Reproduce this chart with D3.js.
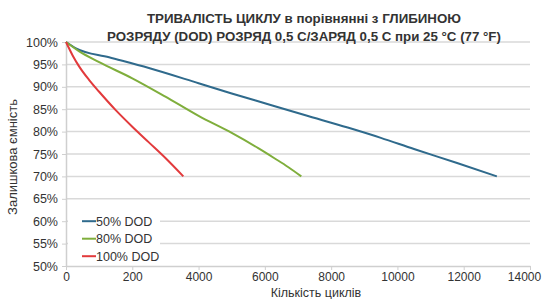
<!DOCTYPE html>
<meta charset="utf-8">
<title>cycle life</title>
<style>
 body { margin: 0; background: #fff; }
 svg text { font-family: "Liberation Sans", Arial, sans-serif; fill: #333; }
 .grid line { stroke: #d9d9d9; stroke-width: 1.5; }
 .axis path, .axis line { stroke: #cfcfcf; }
</style>
<body>
<div class="chart"></div>
</body>
<script src="https://d3js.org/d3.v7.min.js"></script>
<script>

// data

var titleLines = ["ТРИВАЛІСТЬ ЦИКЛУ в порівнянні з ГЛИБИНОЮ",
  "РОЗРЯДУ (DOD) РОЗРЯД 0,5 C/ЗАРЯД 0,5 C при 25 °C (77 °F)"];

var xTicks = [0, 2000, 4000, 6000, 8000, 10000, 12000, 14000];
var xTickLabels = ["0", "200", "4000", "6000", "8000", "10000", "12000", "14000"];
var yTicks = [50, 55, 60, 65, 70, 75, 80, 85, 90, 95, 100];

var dod50 = [[0, 100], [300, 98.6], [1300, 96.6], [2500, 94.2], [4000, 90.8], [5000, 88.5],
  [6200, 85.9], [7200, 83.7], [8500, 80.9], [9500, 78.6], [10500, 76.1], [11800, 73], [13000, 70]];
var dod80 = [[0, 100], [400, 97.9], [1000, 95.5], [2000, 91.9], [3000, 87.8], [4000, 83.5],
  [5000, 79.7], [5800, 76.3], [6300, 74], [6700, 72.1], [7100, 70]];
var dod100 = [[0, 100], [200, 97], [400, 94.5], [700, 91.5], [1000, 88.9], [1500, 84.8],
  [2000, 81.1], [2500, 77.6], [3000, 74.1], [3540, 70]];

var series = [
  {name: "50% DOD", color: "#2f6a8c", values: dod50},
  {name: "80% DOD", color: "#7fae3c", values: dod80},
  {name: "100% DOD", color: "#e23a3c", values: dod100}
];

var W = 544, H = 299;
var margin = {top: 42, right: 14, bottom: 33, left: 66};
var w = W - margin.left - margin.right,
  h = H - margin.top - margin.bottom;

var svg = d3.select(".chart").append("svg")
  .attr("width", W)
  .attr("height", H);

var g = svg.append("g")
  .attr("transform", "translate(" + margin.left + "," + margin.top + ")");

var x = d3.scaleLinear().domain([0, 14000]).range([0, w]);
var y = d3.scaleLinear().domain([50, 100]).range([h, 0]);

// gridlines
g.append("g")
  .attr("class", "grid")
  .selectAll("line")
  .data(yTicks.slice(1))
  .enter().append("line")
  .attr("x1", 0).attr("x2", w)
  .attr("y1", function(d) { return y(d); })
  .attr("y2", function(d) { return y(d); });

// axes
var xaxis = g.append("g")
  .attr("class", "axis")
  .attr("transform", "translate(0," + h + ")")
  .call(d3.axisBottom(x).tickValues(xTicks).tickSize(4).tickSizeOuter(0)
    .tickFormat(function(d, i) { return xTickLabels[i]; }));
xaxis.selectAll("text").attr("font-size", 12).attr("y", 5).attr("dy", "0.8em");
xaxis.selectAll("text").filter(function(d) { return d == 14000; }).attr("dx", -6);

var yaxis = g.append("g")
  .attr("class", "axis")
  .call(d3.axisLeft(y).tickValues(yTicks).tickSize(4).tickSizeOuter(0)
    .tickFormat(function(d) { return d + "%"; }));
yaxis.selectAll("text").attr("font-size", 12.5).attr("dx", -1);
yaxis.select("path").attr("stroke-width", 1.5);
xaxis.select("path").attr("stroke-width", 1.5);

// legend background covers grid
g.append("rect")
  .attr("x", 2).attr("y", y(61.5))
  .attr("width", 92).attr("height", y(51) - y(61.5))
  .attr("fill", "#fff");

// lines
var line = d3.line()
  .curve(d3.curveMonotoneX)
  .x(function(d) { return x(d[0]); })
  .y(function(d) { return y(d[1]); });

g.selectAll("path.series")
  .data(series)
  .enter().append("path")
  .attr("class", "series")
  .attr("fill", "none")
  .attr("stroke", function(d) { return d.color; })
  .attr("stroke-width", 2)
  .attr("d", function(d) { return line(d.values); });

// legend
var leg = g.selectAll("g.leg")
  .data(series)
  .enter().append("g")
  .attr("class", "leg")
  .attr("transform", function(d, i) {
    return "translate(16," + (y(60) + i * 17.5) + ")";
  });

leg.append("line")
  .attr("x1", 0).attr("x2", 14)
  .attr("stroke", function(d) { return d.color; })
  .attr("stroke-width", 2);

leg.append("text")
  .attr("x", 14).attr("dy", "0.35em")
  .attr("font-size", 12.5)
  .text(function(d) { return d.name; });

// titles
svg.selectAll("text.title")
  .data(titleLines)
  .enter().append("text")
  .attr("class", "title")
  .attr("x", 304)
  .attr("y", function(d, i) { return 23 + i * 18; })
  .attr("text-anchor", "middle")
  .attr("font-size", 13.3)
  .attr("font-weight", "bold")
  .text(function(d) { return d; });

svg.append("text")
  .attr("x", 316).attr("y", 297)
  .attr("text-anchor", "middle")
  .attr("font-size", 12.5)
  .text("Кількість циклів");

svg.append("text")
  .attr("transform", "translate(17,157) rotate(-90)")
  .attr("text-anchor", "middle")
  .attr("font-size", 13)
  .text("Залишкова ємність");

</script>
